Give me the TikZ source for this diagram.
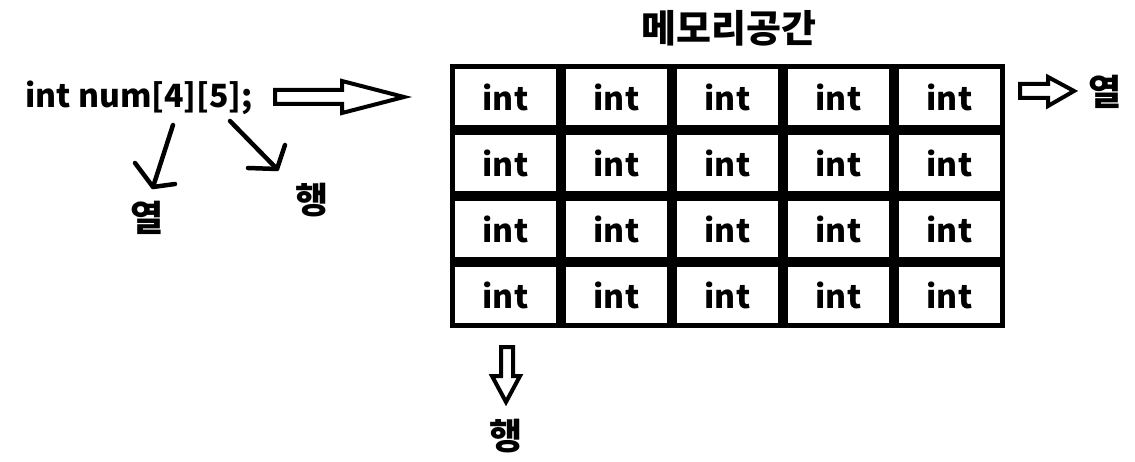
\documentclass[tikz,border=0pt]{standalone}
\usepackage{fontspec}
\setmainfont{Noto Sans CJK KR}
\usepackage{tikz}
\usetikzlibrary{positioning}

\tikzset{
  cell/.style={draw,line width=4.7pt,minimum width=106.3pt,minimum height=61.3pt,
    inner sep=0pt,outer sep=0pt,font=\fontsize{32}{36}\selectfont\bfseries},
  lab/.style={font=\fontsize{36}{40}\selectfont\bfseries,inner sep=0pt},
  hollow/.style={draw,line width=4pt,line join=miter},
  hand/.style={line width=4.5pt,line cap=round,line join=round}
}

\begin{document}
\begin{tikzpicture}[x=1pt,y=-1pt]
\useasboundingbox (0,0) rectangle (1135,462);
% declaration and its two arrows
\node[lab,font=\fontsize{32}{36}\selectfont\bfseries,anchor=base west] (decl) at (25,108) {int num[4][5];};
\coordinate (colend) at (153,187);
\coordinate (rowend) at (277,169);
\draw[hand] (173,125) -- (colend);
\draw[hand] (135,163) -- (colend) -- (175,184);
\draw[hand] (230,121) -- (rowend);
\draw[hand] (285,145) -- (rowend) -- (248,168);
\node[lab] (col1) at (147,218) {열};
\node[lab] (row1) at (312,200) {행};
% big arrow to memory
\draw[hollow] (275,90) -- (342,90) -- (342,81) -- (404,97) -- (342,113) -- (342,104) -- (275,104) -- cycle;
% memory
\node[lab,font=\fontsize{38}{42}\selectfont\bfseries] (title) at (729,28) {메모리공간};
\foreach \r in {1,...,4}
  \foreach \c in {1,...,5}
    \node[cell] (m\r\c) at (450+111*\c-55.5,64+66*\r-33) {int};
% column direction
\draw[hollow] (1020,84) -- (1048,84) -- (1048,77) -- (1074,91) -- (1048,106) -- (1048,98) -- (1020,98) -- cycle;
\node[lab] (col2) at (1105,92) {열};
% row direction
\draw[hollow] (501,347) -- (513,347) -- (513,376) -- (520,376) -- (506,402) -- (492,376) -- (501,376) -- cycle;
\node[lab] (row2) at (506,436) {행};
\end{tikzpicture}
\end{document}
